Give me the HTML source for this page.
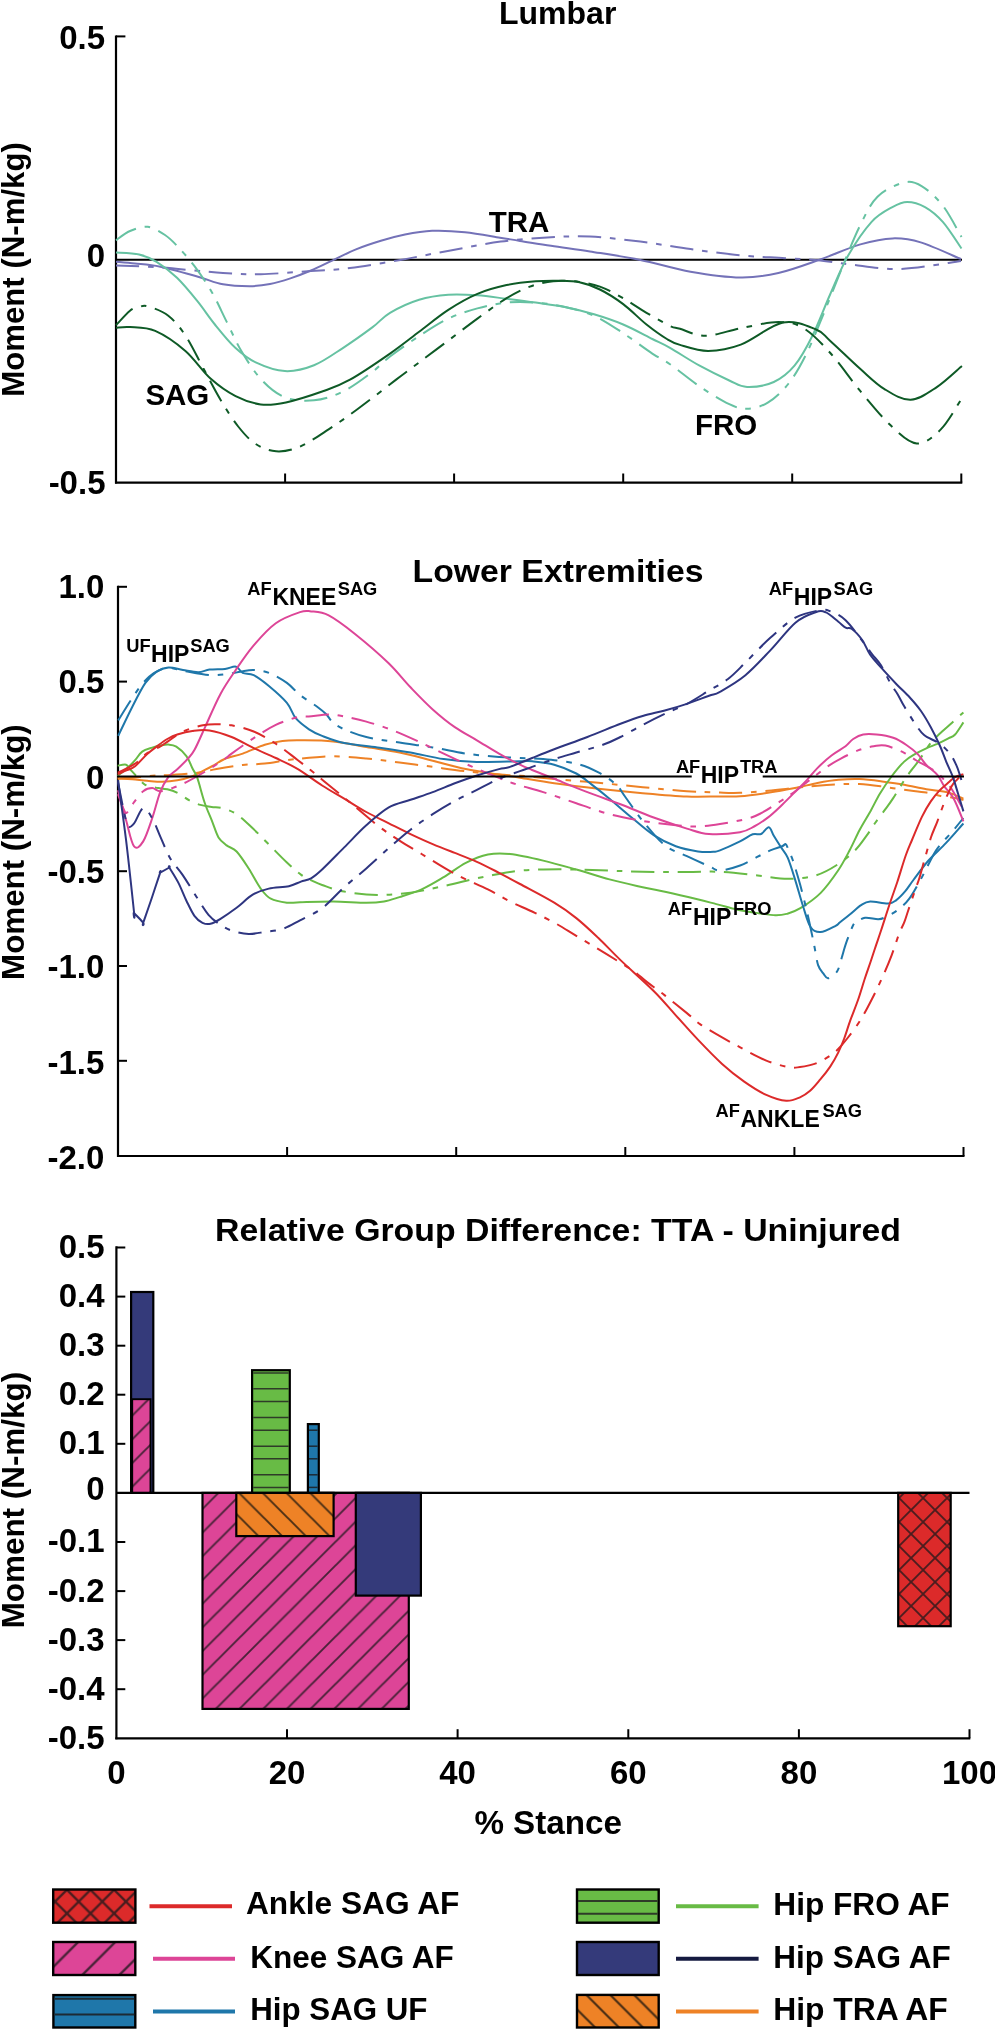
<!DOCTYPE html>
<html><head><meta charset="utf-8"><style>
html,body{margin:0;padding:0;background:#fff;}
svg{display:block;will-change:transform;}
text{font-family:'Liberation Sans',sans-serif;font-weight:bold;fill:#000;}
</style></head><body>
<svg width="995" height="2030" viewBox="0 0 995 2030">
<rect width="995" height="2030" fill="#fff"/>
<defs>
<pattern id="pRed" patternUnits="userSpaceOnUse" width="24" height="24" x="911.1" y="1510"><rect width="24" height="24" fill="#dc2a2a"/><path d="M-6.0 6.0 L6.0 -6.0 M0 24 L24 0 M18.0 30.0 L30.0 18.0 M-6.0 18.0 L6.0 30.0 M0 0 L24 24 M18.0 -6.0 L30.0 6.0" stroke="#4a1c1e" stroke-width="1.9" stroke-linecap="square"/></pattern>
<pattern id="pPink" patternUnits="userSpaceOnUse" width="23.7" height="23.7" x="241.1" y="1541.4"><rect width="23.7" height="23.7" fill="#dd4597"/><path d="M-5.925 5.925 L5.925 -5.925 M0 23.7 L23.7 0 M17.775 29.625 L29.625 17.775" stroke="#4a2238" stroke-width="1.9" stroke-linecap="square"/></pattern>
<pattern id="pPink2" patternUnits="userSpaceOnUse" width="23.7" height="23.7" x="241.1" y="1543.8"><rect width="23.7" height="23.7" fill="#dd4597"/><path d="M-5.925 5.925 L5.925 -5.925 M0 23.7 L23.7 0 M17.775 29.625 L29.625 17.775" stroke="#4a2238" stroke-width="1.9" stroke-linecap="square"/></pattern>
<pattern id="pOrange" patternUnits="userSpaceOnUse" width="23.7" height="23.7" x="240.5" y="1494.4"><rect width="23.7" height="23.7" fill="#ee8226"/><path d="M-5.925 17.775 L5.925 29.625 M0 0 L23.7 23.7 M17.775 -5.925 L29.625 5.925" stroke="#4a2e14" stroke-width="1.9" stroke-linecap="square"/></pattern>
<pattern id="pRedL" patternUnits="userSpaceOnUse" width="23.6" height="23.6" x="78.7" y="1901.6"><rect width="23.6" height="23.6" fill="#dc2a2a"/><path d="M-5.9 5.9 L5.9 -5.9 M0 23.6 L23.6 0 M17.700000000000003 29.5 L29.5 17.700000000000003 M-5.9 17.700000000000003 L5.9 29.5 M0 0 L23.6 23.6 M17.700000000000003 -5.9 L29.5 5.9" stroke="#4a1c1e" stroke-width="2.3" stroke-linecap="square"/></pattern>
<pattern id="pPinkL" patternUnits="userSpaceOnUse" width="37.1" height="37.1" x="114.3" y="1943"><rect width="37.1" height="37.1" fill="#dd4597"/><path d="M-9.275 9.275 L9.275 -9.275 M0 37.1 L37.1 0 M27.825000000000003 46.375 L46.375 27.825000000000003" stroke="#4a2238" stroke-width="2.4" stroke-linecap="square"/></pattern>
<pattern id="pOrangeL" patternUnits="userSpaceOnUse" width="23.85" height="23.85" x="587.1" y="1995.6"><rect width="23.85" height="23.85" fill="#ee8226"/><path d="M-5.9625 17.887500000000003 L5.9625 29.8125 M0 0 L23.85 23.85 M17.887500000000003 -5.9625 L29.8125 5.9625" stroke="#4a2e14" stroke-width="2.2" stroke-linecap="square"/></pattern>
</defs>
<text x="499.0" y="24.0" font-size="32" text-anchor="start" >Lumbar</text>
<text transform="translate(23.8 396.8) rotate(-90)" x="0" y="0" font-size="31.2" textLength="254.7" lengthAdjust="spacingAndGlyphs">Moment (N-m/kg)</text>
<line x1="116.0" y1="35.4" x2="116.0" y2="483.5" stroke="#000" stroke-width="2.2"/>
<line x1="115.0" y1="482.6" x2="962.3" y2="482.6" stroke="#000" stroke-width="2.2"/>
<line x1="116.0" y1="36.4" x2="125.4" y2="36.4" stroke="#000" stroke-width="2"/>
<line x1="285.1" y1="482.6" x2="285.1" y2="473.5" stroke="#000" stroke-width="2"/>
<line x1="454.1" y1="482.6" x2="454.1" y2="473.5" stroke="#000" stroke-width="2"/>
<line x1="623.2" y1="482.6" x2="623.2" y2="473.5" stroke="#000" stroke-width="2"/>
<line x1="792.2" y1="482.6" x2="792.2" y2="473.5" stroke="#000" stroke-width="2"/>
<line x1="961.3" y1="482.6" x2="961.3" y2="473.5" stroke="#000" stroke-width="2"/>
<line x1="116.0" y1="259.7" x2="962.0" y2="259.7" stroke="#000" stroke-width="2"/>
<text x="105.0" y="48.6" font-size="33" text-anchor="end" >0.5</text>
<text x="105.0" y="266.6" font-size="33" text-anchor="end" >0</text>
<text x="105.5" y="493.9" font-size="33" text-anchor="end" >-0.5</text>
<text x="488.7" y="231.8" font-size="29.5" text-anchor="start" >TRA</text>
<text x="145.4" y="405.2" font-size="29.5" text-anchor="start" >SAG</text>
<text x="695.0" y="434.6" font-size="29.5" text-anchor="start" >FRO</text>
<path d="M116.0 265.4 C123.4 265.7 142.5 266.1 160.3 267.4 C178.1 268.7 206.2 271.9 223.0 273.0 C239.8 274.1 246.1 274.5 260.8 274.2 C275.5 273.9 296.1 272.0 311.0 271.0 C325.9 270.0 335.1 269.9 350.0 268.0 C364.9 266.1 383.6 262.8 400.3 259.9 C417.1 257.0 433.8 253.4 450.5 250.4 C467.2 247.4 484.1 243.8 500.8 241.6 C517.5 239.4 536.1 238.2 551.0 237.3 C565.9 236.5 575.1 235.8 590.0 236.5 C604.9 237.2 623.5 239.5 640.3 241.6 C657.0 243.7 673.8 246.8 690.5 249.1 C707.2 251.4 725.0 253.9 740.8 255.4 C756.5 256.9 771.8 257.3 785.0 258.2 C798.2 259.1 809.3 259.4 820.2 260.5 C831.1 261.6 837.0 263.1 850.4 264.5 C863.8 265.9 882.2 269.6 900.6 269.0 C919.0 268.4 950.9 262.3 961.0 261.0" fill="none" stroke="#7472b8" stroke-width="2" stroke-dasharray="23.3 8.8 5.6 8.8" stroke-linejoin="round"/>
<path d="M116.0 261.7 C119.2 262.0 127.6 262.7 135.0 263.5 C142.4 264.3 149.8 264.5 160.3 266.7 C170.8 268.9 187.6 273.8 198.0 276.7 C208.4 279.6 214.4 282.7 223.0 284.3 C231.6 285.9 241.7 286.2 249.5 286.2 C257.3 286.1 263.2 285.3 270.0 284.0 C276.8 282.7 283.6 280.6 290.4 278.4 C297.2 276.1 303.9 273.5 311.0 270.5 C318.1 267.5 325.2 263.8 332.7 260.3 C340.2 256.8 348.0 252.6 356.0 249.3 C364.0 246.0 372.7 243.2 380.9 240.7 C389.1 238.2 396.5 236.2 405.0 234.5 C413.5 232.8 422.1 231.2 432.1 230.8 C442.1 230.4 453.7 231.0 465.0 232.2 C476.3 233.3 490.8 236.2 500.0 237.7 C509.2 239.1 511.5 239.6 520.0 240.9 C528.5 242.2 539.3 244.1 551.0 245.8 C562.7 247.6 575.1 249.1 590.0 251.4 C604.9 253.8 623.5 256.5 640.3 259.9 C657.0 263.3 673.8 268.8 690.5 271.7 C707.2 274.6 726.1 277.3 740.8 277.5 C755.4 277.7 765.2 276.0 778.4 273.0 C791.6 270.0 806.5 264.3 820.2 259.5 C833.9 254.7 848.3 247.9 860.4 244.4 C872.5 240.9 882.5 238.7 892.6 238.4 C902.7 238.1 909.3 238.9 920.7 242.4 C932.1 245.9 954.3 256.3 961.0 259.1" fill="none" stroke="#7472b8" stroke-width="2"  stroke-linejoin="round"/>
<path d="M116.0 240.3 C118.3 238.8 124.7 233.2 130.0 231.0 C135.3 228.8 142.1 226.1 147.9 226.8 C153.7 227.5 160.2 231.8 165.0 235.0 C169.8 238.2 172.1 240.6 177.0 245.8 C181.9 251.0 188.7 258.4 194.5 266.2 C200.3 274.0 206.7 283.2 212.0 292.4 C217.3 301.6 221.7 311.9 226.6 321.6 C231.5 331.3 235.4 341.0 241.2 350.7 C247.0 360.4 254.3 372.1 261.6 379.9 C268.9 387.7 276.2 393.9 284.9 397.3 C293.6 400.7 304.3 401.3 314.0 400.3 C323.7 399.3 333.5 396.2 343.2 391.5 C352.9 386.8 364.5 377.8 372.3 372.0 C380.1 366.2 382.2 362.5 390.0 356.5 C397.8 350.5 409.4 342.4 419.1 336.1 C428.8 329.8 438.6 323.2 448.3 318.6 C458.0 314.0 467.7 311.1 477.4 308.4 C487.1 305.7 496.9 303.6 506.6 302.6 C516.3 301.6 526.0 301.9 535.7 302.6 C545.4 303.3 555.2 304.8 564.9 307.0 C574.6 309.2 584.3 311.3 594.0 315.7 C603.7 320.1 613.5 326.9 623.2 333.2 C632.9 339.5 644.5 348.4 652.3 353.6 C660.1 358.8 662.1 358.7 670.0 364.2 C677.9 369.7 689.7 379.7 699.6 386.4 C709.5 393.1 721.4 400.5 729.3 404.2 C737.2 407.9 740.7 408.9 747.1 408.7 C753.5 408.4 760.9 406.9 767.8 402.7 C774.7 398.5 782.2 391.6 788.6 383.5 C795.0 375.4 800.5 365.7 806.4 353.8 C812.3 341.9 818.3 326.6 824.2 312.3 C830.1 298.0 836.1 282.1 842.0 267.8 C847.9 253.5 853.8 238.2 859.7 226.3 C865.6 214.5 870.1 204.0 877.5 196.7 C884.9 189.4 896.8 184.2 904.2 182.5 C911.6 180.8 915.6 182.5 922.0 186.3 C928.4 190.2 936.2 197.2 942.8 205.6 C949.4 214.0 958.4 231.8 961.5 237.0" fill="none" stroke="#66c2a2" stroke-width="2" stroke-dasharray="23.3 8.8 5.6 8.8" stroke-linejoin="round"/>
<path d="M116.0 252.5 C119.8 252.8 132.3 252.9 139.1 254.5 C145.9 256.1 150.3 257.9 156.6 261.8 C162.9 265.7 170.2 271.2 177.0 277.8 C183.8 284.4 191.1 293.4 197.4 301.2 C203.7 309.0 208.6 316.7 214.9 324.5 C221.2 332.3 228.5 341.5 235.3 347.8 C242.1 354.1 247.4 358.5 255.7 362.4 C264.0 366.3 275.2 370.6 284.9 371.1 C294.6 371.6 304.3 369.2 314.0 365.3 C323.7 361.4 333.5 354.1 343.2 347.8 C352.9 341.5 364.5 333.2 372.3 327.4 C380.1 321.6 382.2 317.4 390.0 312.8 C397.8 308.2 409.4 302.7 419.1 299.7 C428.8 296.7 438.6 295.4 448.3 294.7 C458.0 294.0 467.7 294.6 477.4 295.3 C487.1 296.0 496.9 297.6 506.6 298.8 C516.3 300.0 526.0 301.2 535.7 302.6 C545.4 304.0 555.2 305.1 564.9 307.0 C574.6 308.9 584.3 311.4 594.0 314.3 C603.7 317.2 613.5 320.4 623.2 324.5 C632.9 328.6 644.5 335.1 652.3 339.0 C660.1 342.9 662.1 343.4 670.0 347.9 C677.9 352.3 689.7 360.3 699.6 365.7 C709.5 371.1 721.4 376.9 729.3 380.5 C737.2 384.1 739.7 386.8 747.1 387.0 C754.5 387.2 765.9 385.6 773.8 382.0 C781.7 378.4 788.1 373.4 794.5 365.7 C800.9 358.0 806.4 347.9 812.3 336.0 C818.2 324.1 824.2 307.8 830.1 294.5 C836.0 281.2 841.0 268.1 847.9 256.0 C854.8 243.9 864.2 230.1 871.6 221.9 C879.0 213.8 886.5 210.4 892.4 207.1 C898.3 203.8 901.8 202.0 907.2 202.0 C912.6 202.0 919.1 203.8 925.0 207.1 C930.9 210.4 936.7 215.0 942.8 221.9 C948.9 228.8 958.4 244.1 961.5 248.5" fill="none" stroke="#66c2a2" stroke-width="2"  stroke-linejoin="round"/>
<path d="M116.0 325.2 C118.3 322.8 126.2 313.7 130.0 310.7 C133.8 307.7 136.1 307.7 139.1 307.0 C142.1 306.3 143.0 304.9 147.9 306.4 C152.8 307.8 162.0 310.8 168.3 315.7 C174.6 320.6 180.0 327.4 185.8 336.1 C191.6 344.9 197.5 357.5 203.3 368.2 C209.1 378.9 215.0 390.6 220.8 400.3 C226.6 410.0 232.4 419.2 238.2 426.5 C244.0 433.8 249.4 439.9 255.7 444.0 C262.0 448.1 268.8 450.8 276.1 451.3 C283.4 451.8 290.6 450.5 299.4 446.9 C308.1 443.2 318.9 435.7 328.6 429.4 C338.3 423.1 346.5 417.2 357.7 409.0 C368.9 400.8 385.6 387.7 395.8 379.9 C406.0 372.1 410.4 369.0 419.1 362.4 C427.9 355.8 438.6 347.8 448.3 340.5 C458.0 333.2 467.7 325.7 477.4 318.6 C487.1 311.6 497.9 303.5 506.6 298.2 C515.4 292.9 522.1 289.4 529.9 286.6 C537.7 283.8 545.4 282.1 553.2 281.3 C561.0 280.5 568.7 280.7 576.5 281.6 C584.3 282.5 592.1 283.8 599.9 286.6 C607.7 289.4 615.4 293.8 623.2 298.2 C631.0 302.6 638.7 308.2 646.5 312.8 C654.3 317.4 664.2 323.2 669.8 325.9 C675.4 328.6 674.0 327.1 680.0 328.8 C686.0 330.5 695.5 335.9 705.6 335.8 C715.7 335.7 728.7 330.5 740.8 328.2 C752.9 325.9 767.9 322.0 778.4 322.0 C788.9 322.0 795.0 323.0 803.6 328.2 C812.2 333.4 820.8 342.5 830.3 353.0 C839.8 363.5 850.3 379.1 860.4 391.2 C870.5 403.2 881.2 416.6 890.6 425.3 C900.0 434.0 908.3 442.7 916.7 443.4 C925.1 444.1 933.3 436.9 940.8 429.4 C948.3 421.9 958.4 403.4 961.9 398.2" fill="none" stroke="#0e5a26" stroke-width="2" stroke-dasharray="23.3 8.8 5.6 8.8" stroke-linejoin="round"/>
<path d="M116.0 327.7 C118.3 327.6 123.5 326.5 130.0 327.0 C136.5 327.5 146.0 326.8 155.2 330.8 C164.4 334.8 176.2 342.9 185.4 350.9 C194.6 358.8 202.1 371.0 210.5 378.5 C218.9 386.0 227.2 391.8 235.6 396.1 C244.0 400.4 252.4 403.3 260.8 404.4 C269.2 405.4 275.4 404.6 285.9 402.4 C296.4 400.2 312.9 394.8 323.6 391.0 C334.3 387.2 338.9 385.9 350.0 379.7 C361.1 373.5 378.5 361.6 390.0 353.6 C401.5 345.6 409.4 339.1 419.1 331.8 C428.8 324.5 438.6 316.2 448.3 309.9 C458.0 303.6 467.7 298.0 477.4 293.9 C487.1 289.8 496.9 287.2 506.6 285.1 C516.3 283.0 527.0 282.0 535.7 281.3 C544.4 280.6 551.7 280.7 559.0 280.8 C566.3 280.9 572.6 280.8 579.4 282.2 C586.2 283.6 592.6 285.9 599.9 289.5 C607.2 293.1 615.4 298.3 623.2 304.1 C631.0 309.9 639.2 318.7 646.5 324.5 C653.8 330.3 661.3 335.6 666.9 339.0 C672.5 342.4 673.1 342.9 680.0 344.9 C686.9 346.9 698.0 350.9 708.1 350.9 C718.2 350.8 728.3 349.3 740.8 344.6 C753.3 339.9 770.5 325.0 783.0 322.5 C795.5 320.0 808.2 326.4 816.1 329.5 C824.0 332.6 822.9 334.3 830.3 340.9 C837.7 347.5 851.4 361.0 860.4 369.0 C869.4 377.0 876.1 384.0 884.5 389.1 C892.9 394.2 902.0 400.1 910.7 399.8 C919.4 399.5 928.3 392.7 936.8 387.1 C945.3 381.5 957.7 369.5 961.9 366.0" fill="none" stroke="#0e5a26" stroke-width="2"  stroke-linejoin="round"/>
<text x="412.5" y="582.0" font-size="32" text-anchor="start" textLength="291.0" lengthAdjust="spacingAndGlyphs" >Lower Extremities</text>
<text transform="translate(24.3 979.9) rotate(-90)" x="0" y="0" font-size="31.2" textLength="255.7" lengthAdjust="spacingAndGlyphs">Moment (N-m/kg)</text>
<line x1="118.0" y1="585.8" x2="118.0" y2="1157.0" stroke="#000" stroke-width="2.2"/>
<line x1="117.0" y1="1156.0" x2="964.5" y2="1156.0" stroke="#000" stroke-width="2.2"/>
<line x1="118.0" y1="586.8" x2="127.0" y2="586.8" stroke="#000" stroke-width="2"/>
<line x1="118.0" y1="681.6" x2="127.0" y2="681.6" stroke="#000" stroke-width="2"/>
<line x1="118.0" y1="871.2" x2="127.0" y2="871.2" stroke="#000" stroke-width="2"/>
<line x1="118.0" y1="966.0" x2="127.0" y2="966.0" stroke="#000" stroke-width="2"/>
<line x1="118.0" y1="1060.8" x2="127.0" y2="1060.8" stroke="#000" stroke-width="2"/>
<line x1="287.1" y1="1156.0" x2="287.1" y2="1147.0" stroke="#000" stroke-width="2"/>
<line x1="456.2" y1="1156.0" x2="456.2" y2="1147.0" stroke="#000" stroke-width="2"/>
<line x1="625.3" y1="1156.0" x2="625.3" y2="1147.0" stroke="#000" stroke-width="2"/>
<line x1="794.4" y1="1156.0" x2="794.4" y2="1147.0" stroke="#000" stroke-width="2"/>
<line x1="963.5" y1="1156.0" x2="963.5" y2="1147.0" stroke="#000" stroke-width="2"/>
<path d="M117.7 778.2 C120.6 778.1 129.2 777.9 135.0 777.5 C140.8 777.1 146.8 776.1 152.2 775.7 C157.6 775.3 161.3 775.5 167.3 775.2 C173.3 774.9 182.5 774.2 188.4 773.7 C194.3 773.2 197.8 773.0 202.5 772.2 C207.2 771.4 209.8 770.2 216.5 769.0 C223.2 767.8 234.6 765.9 242.7 765.0 C250.8 764.1 257.4 764.4 264.8 763.6 C272.2 762.8 279.9 761.1 286.9 760.2 C293.9 759.3 298.9 758.6 306.6 758.0 C314.3 757.4 323.2 756.2 333.2 756.3 C343.1 756.4 355.2 757.5 366.3 758.5 C377.4 759.5 388.4 761.1 399.5 762.5 C410.6 763.9 421.6 765.4 432.7 766.9 C443.8 768.4 454.8 770.0 465.8 771.3 C476.9 772.6 490.0 773.9 499.0 774.6 C508.0 775.3 510.8 775.0 520.0 775.7 C529.2 776.4 541.1 777.8 554.2 779.0 C567.3 780.2 583.6 781.4 598.4 782.8 C613.1 784.2 628.0 785.8 642.7 787.2 C657.5 788.6 674.0 790.3 686.9 791.2 C699.8 792.1 711.1 792.3 720.0 792.6 C728.9 792.9 732.0 793.1 740.0 792.8 C748.0 792.5 758.7 791.5 768.1 790.7 C777.5 789.9 788.1 788.6 796.3 787.8 C804.5 787.0 810.4 786.3 817.4 785.7 C824.4 785.1 831.5 784.6 838.5 784.3 C845.5 784.0 852.3 783.6 859.6 784.0 C866.9 784.4 874.7 785.5 882.1 786.5 C889.5 787.5 896.8 788.8 904.2 789.8 C911.6 790.8 920.2 791.6 926.3 792.6 C932.4 793.6 935.9 795.0 940.7 795.9 C945.5 796.8 951.3 797.4 955.1 798.1 C958.9 798.8 962.0 799.7 963.4 800.0" fill="none" stroke="#ee8226" stroke-width="2" stroke-dasharray="23.3 8.8 5.6 8.8" stroke-linejoin="round"/>
<path d="M117.7 778.7 C120.1 778.8 127.2 778.9 132.1 779.2 C137.0 779.6 142.2 780.4 147.2 780.8 C152.2 781.2 157.3 781.9 162.3 781.8 C167.3 781.7 172.3 781.2 177.3 780.3 C182.3 779.4 188.2 777.7 192.4 776.2 C196.6 774.7 199.2 772.9 202.5 771.2 C205.8 769.5 208.8 768.0 212.5 766.0 C216.2 764.0 219.6 761.1 224.6 759.0 C229.6 756.9 236.0 756.0 242.7 753.6 C249.4 751.2 258.2 746.9 264.8 744.8 C271.4 742.7 276.6 741.8 282.5 741.0 C288.4 740.2 291.6 740.2 300.0 740.3 C308.4 740.4 322.1 740.3 333.2 741.4 C344.2 742.5 355.2 745.1 366.3 747.0 C377.4 748.9 388.4 750.2 399.5 752.5 C410.6 754.8 421.6 757.9 432.7 760.7 C443.8 763.5 454.8 766.8 465.8 769.1 C476.9 771.4 490.0 773.2 499.0 774.6 C508.0 776.0 510.8 776.2 520.0 777.7 C529.2 779.2 541.1 781.4 554.2 783.3 C567.3 785.1 583.6 787.1 598.4 788.8 C613.1 790.4 628.0 791.9 642.7 793.2 C657.5 794.5 674.0 796.0 686.9 796.5 C699.8 797.0 711.1 796.4 720.0 796.4 C728.9 796.4 732.0 796.9 740.0 796.3 C748.0 795.7 758.7 794.2 768.1 792.8 C777.5 791.4 788.1 789.4 796.3 787.8 C804.5 786.1 810.4 784.2 817.4 782.9 C824.4 781.6 831.5 780.4 838.5 779.8 C845.5 779.2 852.3 778.8 859.6 779.1 C866.9 779.4 874.7 780.5 882.1 781.5 C889.5 782.5 896.8 783.5 904.2 784.8 C911.6 786.1 918.9 788.0 926.3 789.3 C933.7 790.6 942.2 791.0 948.4 792.6 C954.6 794.2 960.9 797.7 963.4 798.7" fill="none" stroke="#ee8226" stroke-width="2"  stroke-linejoin="round"/>
<path d="M117.7 765.7 C119.1 765.5 124.0 764.1 126.1 764.7 C128.2 765.3 128.4 767.4 130.1 769.2 C131.8 771.0 133.6 773.1 136.1 775.7 C138.6 778.3 141.8 782.8 145.2 784.8 C148.5 786.8 152.5 787.0 156.2 787.8 C159.9 788.5 163.6 788.4 167.3 789.3 C171.0 790.2 174.6 791.4 178.3 793.3 C182.0 795.1 185.7 798.5 189.4 800.4 C193.1 802.3 196.7 803.8 200.4 804.9 C204.1 806.0 207.8 806.3 211.5 806.9 C215.2 807.5 218.4 807.0 222.6 808.2 C226.8 809.4 231.6 810.9 236.6 814.3 C241.6 817.6 247.3 823.3 252.7 828.3 C258.1 833.3 263.1 838.7 268.8 844.4 C274.5 850.1 281.5 857.5 286.9 862.5 C292.2 867.5 296.7 871.6 300.9 874.6 C305.1 877.6 308.5 878.9 312.0 880.6 C315.5 882.3 316.7 883.2 322.1 885.0 C327.5 886.8 335.0 890.0 344.2 891.6 C353.4 893.2 366.3 894.7 377.4 894.9 C388.4 895.1 399.4 894.2 410.5 892.7 C421.6 891.2 432.6 888.5 443.7 886.1 C454.8 883.7 467.7 880.3 476.9 878.3 C486.1 876.3 491.8 875.2 499.0 873.9 C506.2 872.6 512.6 871.3 520.0 870.6 C527.4 869.9 533.8 869.7 543.2 869.5 C552.6 869.3 565.2 869.3 576.3 869.5 C587.3 869.7 598.4 870.2 609.5 870.6 C620.6 871.0 629.8 871.5 642.7 871.7 C655.6 872.0 674.0 872.1 686.9 872.1 C699.8 872.1 708.2 871.2 720.0 871.8 C731.8 872.4 746.4 874.3 757.7 875.5 C769.0 876.7 778.2 878.8 787.8 878.8 C797.4 878.8 807.1 877.9 815.5 875.5 C823.9 873.1 831.5 868.5 838.1 864.2 C844.8 860.0 850.6 854.8 855.4 850.0 C860.1 845.2 863.3 840.2 866.6 835.7 C869.9 831.2 872.0 827.4 875.1 823.0 C878.2 818.6 882.4 813.4 885.4 809.2 C888.4 805.1 890.1 802.9 893.2 798.1 C896.3 793.3 901.1 785.2 904.2 780.4 C907.3 775.6 909.4 772.9 912.0 769.4 C914.6 765.9 916.6 763.8 919.7 759.4 C922.8 755.0 927.1 747.4 930.8 742.8 C934.5 738.2 938.3 735.1 941.8 731.8 C945.3 728.5 948.2 726.1 951.8 722.9 C955.4 719.7 961.5 714.1 963.4 712.4" fill="none" stroke="#68bb45" stroke-width="2" stroke-dasharray="23.3 8.8 5.6 8.8" stroke-linejoin="round"/>
<path d="M117.7 775.7 C119.3 774.5 124.2 770.8 127.1 768.2 C130.0 765.6 132.6 763.0 135.1 760.2 C137.6 757.4 139.3 753.7 142.2 751.6 C145.0 749.5 149.2 748.6 152.2 747.6 C155.2 746.6 157.5 746.1 160.2 745.6 C162.9 745.1 165.6 744.4 168.3 744.6 C171.0 744.8 173.3 744.7 176.3 746.6 C179.3 748.5 183.7 752.5 186.4 756.1 C189.1 759.7 190.6 764.5 192.4 768.2 C194.2 771.9 195.4 772.5 197.4 778.2 C199.4 783.9 202.0 794.9 204.5 802.2 C207.0 809.6 210.2 816.4 212.5 822.3 C214.8 828.2 216.2 833.5 218.5 837.4 C220.8 841.2 223.6 843.0 226.6 845.4 C229.6 847.8 232.9 847.6 236.6 851.5 C240.3 855.4 244.7 862.3 248.7 868.5 C252.7 874.7 257.0 883.6 260.7 888.6 C264.4 893.6 266.4 896.4 270.8 898.7 C275.2 901.1 282.0 902.1 286.9 902.7 C291.8 903.3 292.3 902.4 300.0 902.2 C307.7 902.0 322.1 901.4 333.2 901.5 C344.2 901.6 357.8 902.7 366.3 902.7 C374.8 902.7 378.5 902.4 384.0 901.5 C389.5 900.6 393.2 899.1 399.5 897.1 C405.8 895.1 414.2 892.7 421.6 889.4 C429.0 886.1 436.3 881.6 443.7 877.2 C451.1 872.8 458.4 866.7 465.8 862.9 C473.2 859.1 480.5 856.0 487.9 854.5 C495.3 853.0 500.8 853.0 510.0 854.0 C519.2 855.0 532.2 858.0 543.2 860.6 C554.2 863.2 565.2 866.4 576.3 869.5 C587.3 872.6 598.4 876.4 609.5 879.4 C620.6 882.4 634.3 885.3 642.7 887.2 C651.1 889.1 652.4 889.1 660.0 890.7 C667.6 892.3 678.7 894.8 688.1 897.0 C697.5 899.2 708.1 902.0 716.3 904.1 C724.5 906.2 730.4 908.2 737.4 909.7 C744.4 911.2 752.2 912.3 758.5 913.2 C764.8 914.1 770.7 915.2 775.4 915.3 C780.1 915.4 782.4 915.1 786.6 913.9 C790.8 912.7 794.8 911.7 800.4 908.2 C806.0 904.7 814.2 899.4 820.5 893.1 C826.8 886.8 833.2 877.7 838.1 870.5 C843.0 863.3 846.2 856.8 849.8 850.0 C853.4 843.2 856.1 836.6 859.6 830.0 C863.1 823.4 867.5 816.5 870.9 810.4 C874.3 804.3 876.6 799.1 880.0 793.5 C883.4 787.9 887.5 781.8 891.5 776.5 C895.5 771.2 900.2 765.4 904.2 761.6 C908.2 757.8 911.6 756.1 915.3 753.9 C919.0 751.7 922.6 750.0 926.3 748.3 C930.0 746.6 933.7 745.5 937.4 743.9 C941.1 742.2 945.4 740.0 948.4 738.4 C951.4 736.8 952.6 737.2 955.1 734.5 C957.6 731.8 962.0 724.4 963.4 722.4" fill="none" stroke="#68bb45" stroke-width="2"  stroke-linejoin="round"/>
<path d="M118.2 720.4 C120.5 716.7 127.9 704.5 132.1 698.3 C136.3 692.0 139.5 687.1 143.2 682.9 C146.9 678.7 150.1 675.4 154.2 672.9 C158.2 670.4 162.7 668.2 167.5 667.8 C172.3 667.4 176.0 669.5 183.0 670.7 C190.0 671.9 202.1 674.6 209.5 675.1 C216.9 675.6 222.0 674.5 227.2 674.0 C232.3 673.5 236.0 672.5 240.4 671.8 C244.8 671.1 248.9 669.8 253.7 670.0 C258.5 670.2 263.7 670.8 269.2 672.9 C274.7 675.0 281.8 679.2 286.9 682.9 C292.0 686.6 295.0 691.0 300.1 695.0 C305.2 699.0 313.5 704.0 317.8 707.2 C322.1 710.4 323.4 711.4 326.0 714.0 C328.6 716.6 330.2 720.2 333.2 722.7 C336.2 725.2 338.7 726.9 344.2 729.3 C349.7 731.7 357.1 734.8 366.3 737.0 C375.5 739.2 388.4 740.9 399.5 742.6 C410.6 744.3 421.6 745.6 432.7 747.4 C443.8 749.2 454.8 752.0 465.8 753.6 C476.9 755.2 490.0 756.2 499.0 756.9 C508.0 757.6 512.6 757.6 520.0 758.0 C527.4 758.4 533.8 758.2 543.2 759.1 C552.6 760.0 567.1 761.4 576.3 763.6 C585.5 765.8 591.8 768.9 598.4 772.4 C605.0 775.9 611.7 780.6 616.1 784.6 C620.5 788.6 620.6 790.5 625.0 796.5 C629.4 802.5 636.1 812.8 642.7 820.9 C649.3 829.0 657.4 839.3 664.8 845.2 C672.2 851.1 679.5 852.7 686.9 856.2 C694.3 859.7 703.5 863.8 709.0 866.2 C714.5 868.6 714.8 870.6 720.0 870.5 C725.2 870.4 733.8 867.8 740.1 865.5 C746.4 863.2 752.7 859.2 757.7 856.7 C762.7 854.2 766.2 852.1 770.3 850.4 C774.4 848.6 779.6 847.2 782.2 846.2 C784.8 845.2 784.7 843.5 785.7 844.1 C786.8 844.7 787.3 847.3 788.5 850.0 C789.7 852.7 790.9 854.6 792.9 860.5 C794.9 866.4 797.9 876.4 800.4 885.6 C802.9 894.8 805.8 906.6 807.9 915.7 C810.0 924.8 811.9 934.3 813.1 940.0 C814.3 945.7 814.3 945.9 815.1 950.1 C815.9 954.3 816.8 961.2 818.1 965.1 C819.4 969.0 821.4 971.0 823.1 973.2 C824.8 975.4 825.8 978.5 828.1 978.2 C830.5 977.9 834.9 974.9 837.2 971.2 C839.6 967.5 840.7 960.8 842.2 956.1 C843.7 951.5 844.2 948.4 846.0 943.3 C847.8 938.1 851.4 928.7 853.1 925.2 C854.8 921.7 854.1 923.5 856.1 922.2 C858.1 921.0 861.4 918.2 865.1 917.7 C868.8 917.2 874.9 919.3 878.2 919.2 C881.6 919.1 881.9 918.8 885.2 917.2 C888.6 915.6 894.3 912.7 898.3 909.6 C902.3 906.5 905.6 903.5 909.3 898.6 C913.0 893.7 915.9 888.0 920.4 880.0 C924.9 872.0 931.0 858.3 936.1 850.4 C941.2 842.5 946.7 838.2 951.2 832.8 C955.8 827.4 961.4 820.5 963.4 818.0" fill="none" stroke="#1f77aa" stroke-width="2" stroke-dasharray="23.3 8.8 5.6 8.8" stroke-linejoin="round"/>
<path d="M118.2 735.9 C120.5 731.1 127.6 716.0 132.1 707.2 C136.6 698.4 141.3 688.8 145.4 682.9 C149.5 677.0 152.5 674.4 156.4 671.8 C160.3 669.2 164.2 667.7 168.6 667.4 C173.0 667.1 178.0 669.2 183.0 670.0 C188.0 670.8 194.0 672.3 198.4 672.2 C202.8 672.1 205.1 670.2 209.5 669.6 C213.9 669.0 220.6 669.4 225.0 668.9 C229.4 668.4 233.1 666.0 236.0 666.7 C238.9 667.4 239.8 671.5 242.7 672.9 C245.6 674.3 249.3 672.9 253.7 675.1 C258.1 677.3 263.7 681.6 269.2 686.2 C274.7 690.8 282.5 697.5 286.9 702.8 C291.3 708.1 292.0 713.8 295.7 718.2 C299.4 722.6 304.6 726.3 309.0 729.3 C313.4 732.2 316.2 733.6 322.1 735.9 C328.0 738.2 335.0 741.1 344.2 743.0 C353.4 744.9 366.3 745.8 377.4 747.4 C388.4 749.0 399.4 750.5 410.5 752.5 C421.6 754.5 432.6 757.5 443.7 759.1 C454.8 760.7 464.2 761.6 476.9 762.0 C489.6 762.4 510.8 761.4 520.0 761.3 C529.2 761.2 526.4 760.7 532.1 761.3 C537.8 761.9 546.8 762.7 554.2 764.7 C561.6 766.7 570.0 770.2 576.3 773.5 C582.6 776.8 586.3 780.4 591.8 784.6 C597.3 788.8 602.9 793.2 609.5 798.7 C616.1 804.2 624.2 811.4 631.6 817.5 C639.0 823.6 646.3 830.4 653.7 835.2 C661.1 840.0 668.4 843.6 675.8 846.3 C683.2 849.0 691.6 850.5 697.9 851.4 C704.2 852.3 709.7 852.0 713.4 851.8 C717.1 851.6 715.6 852.1 720.0 850.4 C724.4 848.6 734.5 844.0 740.0 841.3 C745.5 838.6 749.2 835.5 752.7 834.3 C756.2 833.1 758.4 835.2 761.1 834.0 C763.8 832.8 766.7 826.9 768.8 827.2 C770.9 827.5 771.8 832.4 773.8 835.7 C775.8 839.0 778.5 843.2 780.8 846.9 C783.1 850.6 785.4 852.3 787.8 857.9 C790.2 863.5 792.9 872.6 795.4 880.6 C797.9 888.6 800.4 898.0 802.9 905.7 C805.4 913.4 807.6 922.6 810.5 927.0 C813.4 931.4 816.3 932.3 820.5 932.1 C824.7 931.9 832.4 927.4 835.6 925.8 C838.9 924.1 837.6 924.1 840.0 922.2 C842.4 920.3 846.6 917.1 850.1 914.2 C853.6 911.4 857.8 907.2 861.1 905.1 C864.5 903.0 865.7 901.9 870.2 901.6 C874.7 901.4 883.9 903.9 888.2 903.6 C892.6 903.4 893.4 902.2 896.3 900.1 C899.1 898.0 902.4 894.5 905.3 891.1 C908.1 887.8 909.5 885.1 913.4 880.0 C917.3 874.9 923.0 866.7 928.5 860.5 C934.0 854.3 940.3 849.1 946.1 842.9 C951.9 836.7 960.5 826.7 963.4 823.5" fill="none" stroke="#1f77aa" stroke-width="2"  stroke-linejoin="round"/>
<path d="M118.0 794.2 C119.0 796.9 122.6 807.3 124.1 810.3 C125.6 813.3 125.4 813.8 127.1 812.4 C128.8 811.0 131.4 805.7 134.1 802.2 C136.8 798.7 140.2 793.6 143.2 791.2 C146.2 788.9 149.4 788.1 152.2 788.1 C155.0 788.1 156.8 791.2 160.2 791.2 C163.5 791.2 167.9 789.6 172.3 788.1 C176.7 786.6 181.0 784.8 186.4 782.1 C191.8 779.4 198.1 775.9 204.5 772.0 C210.9 768.1 220.1 762.1 224.6 759.0 C229.1 755.9 226.8 757.1 231.6 753.6 C236.4 750.1 246.3 742.9 253.7 738.1 C261.1 733.3 268.4 728.4 275.8 724.9 C283.2 721.4 292.4 718.5 297.9 717.1 C303.4 715.7 303.7 716.9 308.8 716.5 C313.9 716.1 322.8 714.5 328.7 714.5 C334.6 714.5 337.9 715.3 344.2 716.5 C350.5 717.7 358.2 719.3 366.3 721.6 C374.4 723.9 383.7 726.8 392.9 730.4 C402.1 734.0 413.1 739.1 421.6 743.0 C430.1 746.9 435.2 749.6 443.7 753.6 C452.2 757.6 463.3 762.9 472.5 766.9 C481.7 770.9 491.6 775.0 499.0 777.9 C506.4 780.8 509.2 782.0 516.6 784.4 C524.0 786.8 533.2 789.0 543.2 792.1 C553.2 795.2 565.2 799.5 576.3 803.2 C587.3 806.9 598.4 811.2 609.5 814.2 C620.6 817.2 631.7 819.0 642.7 820.9 C653.8 822.8 666.6 824.4 675.8 825.3 C685.0 826.2 690.5 826.6 697.9 826.4 C705.3 826.2 711.8 825.3 720.0 824.0 C728.2 822.7 740.1 820.6 747.0 818.8 C753.9 817.0 755.7 816.0 761.1 813.2 C766.5 810.4 774.7 804.8 779.4 801.9 C784.1 799.0 785.2 798.4 789.2 795.6 C793.2 792.8 798.8 788.4 803.3 785.0 C807.8 781.6 812.0 778.2 816.0 775.2 C820.0 772.2 823.0 769.5 827.2 766.7 C831.4 763.9 835.9 761.1 841.3 758.3 C846.7 755.5 854.2 751.8 859.6 749.8 C865.0 747.8 869.4 747.0 873.7 746.3 C878.0 745.6 880.3 744.5 885.4 745.6 C890.5 746.7 899.0 750.3 904.2 752.8 C909.4 755.3 912.7 758.3 916.4 760.5 C920.1 762.7 922.8 764.0 926.3 766.0 C929.8 768.0 934.4 770.4 937.4 772.7 C940.4 775.0 941.6 777.1 944.0 779.9 C946.4 782.7 948.6 784.3 951.8 789.3 C955.0 794.3 961.5 806.5 963.4 810.0" fill="none" stroke="#dd4597" stroke-width="2" stroke-dasharray="23.3 8.8 5.6 8.8" stroke-linejoin="round"/>
<path d="M118.0 790.2 C119.3 795.2 123.4 810.9 126.1 820.3 C128.8 829.7 131.2 842.9 134.1 846.4 C136.9 849.9 140.2 846.1 143.2 841.4 C146.2 836.7 149.4 826.5 152.2 818.3 C155.0 810.1 157.5 799.1 160.2 792.2 C162.9 785.4 165.5 781.0 168.3 777.2 C171.2 773.4 174.1 772.2 177.3 769.2 C180.5 766.2 184.6 762.3 187.4 759.1 C190.2 755.9 191.5 755.4 194.4 750.1 C197.3 744.8 200.8 736.5 205.1 727.1 C209.4 717.7 215.3 703.5 220.5 693.9 C225.7 684.3 230.5 677.7 236.0 669.6 C241.5 661.5 247.1 653.0 253.7 645.3 C260.3 637.6 268.1 628.7 275.8 623.2 C283.5 617.7 294.1 614.1 300.0 612.1 C305.9 610.1 306.3 610.9 311.1 611.4 C315.9 611.9 321.3 611.6 328.7 615.4 C336.1 619.2 345.4 626.3 355.3 634.2 C365.2 642.1 379.2 654.1 388.4 663.0 C397.6 671.9 403.1 679.6 410.5 687.3 C417.9 695.0 425.3 702.8 432.7 709.4 C440.1 716.0 447.4 722.0 454.8 727.1 C462.2 732.2 469.5 735.9 476.9 740.3 C484.3 744.7 491.8 749.5 499.0 753.6 C506.2 757.7 514.5 762.0 520.0 764.7 C525.5 767.4 526.4 767.6 532.1 770.0 C537.8 772.4 545.0 775.1 554.2 778.8 C563.4 782.5 576.4 787.9 587.4 792.1 C598.4 796.4 609.5 800.1 620.5 804.3 C631.5 808.5 642.6 813.5 653.7 817.5 C664.8 821.5 677.7 825.8 686.9 828.6 C696.1 831.4 700.1 833.5 709.0 834.1 C717.9 834.7 732.5 833.5 740.0 832.2 C747.5 830.9 749.4 829.0 754.1 826.5 C758.8 824.0 763.4 821.0 768.1 817.4 C772.8 813.8 777.5 809.2 782.2 804.7 C786.9 800.2 792.1 794.9 796.3 790.7 C800.5 786.5 804.0 783.2 807.5 779.4 C811.0 775.6 813.4 772.1 817.4 768.1 C821.4 764.1 826.8 759.1 831.5 755.5 C836.2 751.9 841.9 749.0 845.5 746.3 C849.1 743.5 850.2 741.0 853.2 739.0 C856.2 737.0 859.3 735.2 863.2 734.5 C867.1 733.8 871.6 734.0 876.6 734.5 C881.6 735.0 888.2 736.0 893.2 737.8 C898.2 739.5 902.4 742.3 906.4 745.0 C910.4 747.7 914.2 750.6 917.5 753.9 C920.8 757.2 923.0 761.4 926.3 764.9 C929.6 768.4 934.4 771.4 937.4 774.9 C940.4 778.4 941.2 781.8 944.0 785.9 C946.8 790.0 950.8 793.3 954.0 799.2 C957.2 805.1 961.8 817.6 963.4 821.3" fill="none" stroke="#dd4597" stroke-width="2"  stroke-linejoin="round"/>
<path d="M117.7 772.7 C119.3 772.0 123.9 770.0 127.1 768.2 C130.3 766.5 133.8 764.7 137.1 762.2 C140.4 759.7 143.5 755.6 147.2 753.1 C150.9 750.6 155.7 749.1 159.2 747.1 C162.7 745.1 164.3 743.7 168.3 741.1 C172.3 738.5 177.2 734.1 183.0 731.5 C188.8 728.9 197.4 726.5 202.9 725.3 C208.4 724.1 211.3 724.2 216.1 724.2 C220.9 724.2 225.3 724.1 231.6 725.3 C237.9 726.5 246.3 728.4 253.7 731.5 C261.1 734.6 268.4 738.9 275.8 743.7 C283.2 748.5 291.6 755.5 297.9 760.2 C304.1 765.0 308.5 768.4 313.3 772.2 C318.1 776.1 320.2 778.1 326.5 783.3 C332.8 788.5 342.4 796.2 350.9 803.2 C359.4 810.2 369.3 819.0 377.4 825.3 C385.5 831.5 392.1 835.9 399.5 840.7 C406.9 845.5 412.4 848.5 421.6 854.0 C430.8 859.5 443.8 868.0 454.8 873.9 C465.9 879.8 478.7 884.8 487.9 889.4 C497.1 894.0 502.6 897.8 510.0 901.5 C517.4 905.2 524.7 908.0 532.1 911.5 C539.5 915.0 546.8 918.6 554.2 922.6 C561.6 926.6 568.9 931.4 576.3 935.8 C583.7 940.2 591.8 945.1 598.4 949.1 C605.0 953.1 610.2 956.3 616.1 960.0 C622.0 963.7 628.6 967.4 633.8 971.1 C639.0 974.8 641.9 978.1 647.1 982.1 C652.3 986.1 658.2 990.2 664.8 995.4 C671.4 1000.6 681.0 1008.3 686.9 1013.1 C692.8 1017.9 694.1 1020.0 700.0 1024.1 C705.9 1028.1 714.7 1033.2 722.1 1037.4 C729.5 1041.6 736.8 1045.6 744.2 1049.5 C751.6 1053.4 758.9 1057.6 766.3 1060.6 C773.7 1063.5 782.8 1066.1 788.4 1067.2 C794.0 1068.3 796.4 1067.4 800.0 1067.1 C803.6 1066.8 806.8 1066.0 810.1 1065.1 C813.5 1064.2 816.8 1063.2 820.1 1061.6 C823.5 1060.0 827.2 1057.7 830.2 1055.6 C833.2 1053.5 835.4 1051.8 838.2 1049.0 C841.0 1046.2 843.5 1043.3 847.2 1038.5 C850.9 1033.7 856.1 1027.0 860.3 1020.4 C864.4 1013.8 868.5 1005.9 872.1 998.8 C875.8 991.7 878.9 985.0 882.2 977.7 C885.5 970.4 888.9 962.5 891.7 955.1 C894.5 947.7 897.1 939.0 899.2 933.5 C901.3 928.0 902.8 926.1 904.3 922.2 C905.8 918.3 906.6 915.2 908.3 910.2 C910.0 905.2 912.5 897.5 914.4 892.1 C916.2 886.7 917.6 883.7 919.4 878.0 C921.2 872.3 923.0 864.8 925.0 858.0 C927.0 851.2 929.0 843.1 931.1 837.0 C933.2 830.9 935.1 827.4 937.4 821.3 C939.7 815.2 942.7 806.2 945.1 800.3 C947.5 794.4 949.8 789.4 951.8 785.9 C953.8 782.4 955.4 781.4 957.3 779.3 C959.2 777.2 962.4 774.2 963.4 773.2" fill="none" stroke="#dc2a2a" stroke-width="2" stroke-dasharray="23.3 8.8 5.6 8.8" stroke-linejoin="round"/>
<path d="M117.7 774.2 C119.3 773.5 124.2 771.5 127.1 770.2 C130.0 768.9 131.8 768.9 135.1 766.2 C138.4 763.5 143.5 757.5 147.2 754.1 C150.9 750.8 153.8 748.6 157.2 746.1 C160.5 743.6 164.0 740.9 167.3 739.0 C170.7 737.1 173.1 735.8 177.3 734.5 C181.5 733.2 187.0 731.7 192.4 731.0 C197.8 730.3 203.0 729.4 209.5 730.4 C216.0 731.4 224.2 734.0 231.6 737.0 C239.0 740.0 246.3 744.6 253.7 748.1 C261.1 751.6 268.4 754.5 275.8 758.0 C283.2 761.5 290.2 764.5 297.9 769.1 C305.6 773.7 314.4 780.6 322.1 785.5 C329.8 790.4 336.8 794.3 344.2 798.7 C351.6 803.1 358.9 807.9 366.3 812.0 C373.7 816.1 381.0 819.4 388.4 823.1 C395.8 826.8 403.1 830.6 410.5 834.1 C417.9 837.6 425.3 841.0 432.7 844.1 C440.1 847.2 447.4 850.0 454.8 852.9 C462.2 855.8 469.5 858.5 476.9 861.8 C484.3 865.1 491.8 869.1 499.0 872.8 C506.2 876.5 510.8 879.0 520.0 884.0 C529.2 889.0 544.8 897.0 554.2 902.7 C563.6 908.4 568.9 912.2 576.3 918.1 C583.7 924.0 591.0 931.0 598.4 938.0 C605.8 945.0 611.3 951.3 620.5 960.1 C629.7 968.9 644.5 981.8 653.7 991.0 C662.9 1000.2 668.4 1007.2 675.8 1015.3 C683.2 1023.4 690.2 1031.5 697.9 1039.6 C705.6 1047.7 714.4 1056.9 722.1 1063.9 C729.8 1070.9 736.8 1076.4 744.2 1081.6 C751.6 1086.8 759.3 1091.7 766.3 1094.9 C773.3 1098.1 780.6 1100.4 786.2 1100.8 C791.8 1101.2 796.0 1099.0 800.0 1097.3 C804.0 1095.6 806.8 1093.7 810.1 1090.8 C813.5 1087.9 816.8 1083.7 820.1 1079.7 C823.5 1075.7 827.2 1071.1 830.2 1066.6 C833.2 1062.1 835.9 1057.3 838.2 1052.6 C840.5 1047.9 842.2 1043.9 844.2 1038.5 C846.2 1033.1 848.0 1026.8 850.3 1020.4 C852.6 1014.0 855.5 1007.1 858.0 1000.0 C860.5 992.9 862.9 984.3 865.1 977.7 C867.3 971.1 869.3 965.6 871.1 960.2 C872.9 954.8 874.4 950.1 876.1 945.1 C877.8 940.1 878.9 937.0 881.2 930.0 C883.5 923.0 887.3 911.0 890.0 903.0 C892.7 895.0 894.6 890.0 897.3 882.0 C899.9 874.0 903.4 862.0 905.9 855.0 C908.4 848.0 909.3 846.4 912.0 840.0 C914.7 833.6 918.8 823.3 921.9 816.9 C925.0 810.5 927.8 805.8 930.8 801.4 C933.8 797.0 936.7 793.5 939.6 790.4 C942.5 787.3 945.8 784.8 948.4 782.6 C951.0 780.4 952.6 778.5 955.1 777.1 C957.6 775.7 962.0 774.8 963.4 774.3" fill="none" stroke="#dc2a2a" stroke-width="2"  stroke-linejoin="round"/>
<path d="M118.0 782.1 C119.0 787.1 122.4 804.9 124.1 812.3 C125.8 819.7 126.4 824.5 128.1 826.3 C129.8 828.1 131.6 826.3 134.1 823.3 C136.6 820.3 140.2 809.0 143.2 808.2 C146.2 807.4 149.4 813.6 152.2 818.3 C155.0 823.0 157.2 829.7 160.2 836.4 C163.2 843.1 166.6 852.1 170.3 858.5 C174.0 864.9 178.1 868.2 182.4 874.6 C186.8 881.0 192.1 890.0 196.4 896.7 C200.8 903.4 204.5 910.1 208.5 914.8 C212.5 919.5 216.5 922.1 220.5 924.8 C224.5 927.5 227.9 929.4 232.6 930.9 C237.3 932.4 243.3 933.7 248.7 933.9 C254.1 934.1 259.1 932.8 264.8 931.9 C270.5 931.0 277.0 930.7 282.9 928.8 C288.8 926.9 293.5 923.7 300.0 920.3 C306.5 916.9 314.7 913.7 322.1 908.2 C329.5 902.7 336.8 893.8 344.2 887.2 C351.6 880.6 358.9 874.9 366.3 868.4 C373.7 861.9 381.0 855.0 388.4 848.5 C395.8 842.0 403.1 835.4 410.5 829.7 C417.9 824.0 425.3 819.0 432.7 814.2 C440.1 809.4 447.4 805.0 454.8 801.0 C462.2 797.0 469.5 793.6 476.9 789.9 C484.3 786.2 491.8 781.9 499.0 778.8 C506.2 775.7 514.5 773.1 520.0 771.1 C525.5 769.1 526.4 768.9 532.1 766.9 C537.8 764.9 546.8 761.5 554.2 759.1 C561.6 756.7 568.2 754.9 576.3 752.5 C584.4 750.1 595.5 747.4 602.9 744.8 C610.3 742.2 613.9 740.3 620.5 737.0 C627.1 733.7 635.3 728.8 642.7 724.9 C650.1 721.0 657.4 717.3 664.8 713.8 C672.2 710.3 679.5 707.8 686.9 703.9 C694.3 700.0 702.1 694.8 709.0 690.6 C715.9 686.5 722.0 683.6 728.0 679.0 C734.0 674.4 738.1 669.8 745.1 662.9 C752.1 656.0 761.9 645.3 770.3 637.8 C778.7 630.3 787.0 622.3 795.4 617.7 C803.8 613.1 814.6 611.2 820.5 610.2 C826.4 609.2 826.4 609.7 830.6 611.4 C834.8 613.1 840.2 615.1 845.6 620.2 C851.0 625.3 858.9 636.5 863.3 642.2 C867.7 647.9 869.2 650.5 872.2 654.4 C875.2 658.3 877.9 660.4 881.0 665.4 C884.1 670.4 888.2 679.4 891.0 684.2 C893.8 689.0 895.4 690.5 897.6 694.2 C899.8 697.9 901.2 701.3 904.2 706.3 C907.2 711.3 912.0 719.2 915.3 724.0 C918.6 728.8 920.6 732.1 924.1 735.1 C927.6 738.1 933.0 739.7 936.3 741.7 C939.6 743.7 941.5 744.9 944.0 747.2 C946.5 749.5 949.2 752.5 951.2 755.5 C953.2 758.5 954.8 761.9 956.2 764.9 C957.6 767.9 958.3 770.1 959.5 773.8 C960.7 777.5 962.8 784.8 963.4 787.0" fill="none" stroke="#2e3580" stroke-width="2" stroke-dasharray="23.3 8.8 5.6 8.8" stroke-linejoin="round"/>
<path d="M118.0 780.1 C119.3 790.1 123.4 818.3 126.1 840.4 C128.8 862.5 132.8 900.7 134.1 912.8 C135.4 924.9 132.6 911.1 134.1 912.8 C135.6 914.5 141.7 921.1 143.2 922.8 C144.7 924.5 141.7 927.1 143.2 922.8 C144.7 918.4 149.4 905.1 152.2 896.7 C155.0 888.3 158.9 876.6 160.2 872.6 C161.5 868.6 158.7 873.5 160.2 872.6 C161.7 871.8 167.8 868.4 169.3 867.5 C170.8 866.6 167.8 865.0 169.3 867.5 C170.8 870.0 175.5 877.1 178.3 882.6 C181.2 888.1 183.7 895.2 186.4 900.7 C189.1 906.2 191.7 912.1 194.4 915.8 C197.1 919.5 199.8 921.5 202.5 922.8 C205.2 924.1 207.5 924.5 210.5 923.8 C213.5 923.1 216.2 921.5 220.5 918.8 C224.8 916.1 231.2 911.7 236.6 907.7 C242.0 903.7 247.3 897.9 252.7 894.7 C258.1 891.5 262.8 890.0 268.8 888.6 C274.8 887.2 283.5 887.4 288.9 886.2 C294.2 885.0 297.2 882.9 300.9 881.6 C304.6 880.3 307.6 880.3 311.1 878.3 C314.6 876.3 316.6 874.6 322.1 869.5 C327.6 864.4 336.8 854.8 344.2 847.4 C351.6 840.0 358.9 831.9 366.3 825.3 C373.7 818.7 381.0 811.9 388.4 807.6 C395.8 803.4 403.1 802.4 410.5 799.8 C417.9 797.2 425.3 794.9 432.7 792.1 C440.1 789.4 447.4 786.1 454.8 783.3 C462.2 780.5 469.5 777.9 476.9 775.5 C484.3 773.1 493.5 770.5 499.0 769.1 C504.5 767.7 504.5 768.8 510.0 766.9 C515.5 765.0 524.7 761.0 532.1 758.0 C539.5 755.0 545.0 752.7 554.2 749.2 C563.4 745.7 576.4 741.2 587.4 737.0 C598.4 732.8 611.3 727.3 620.5 723.8 C629.7 720.3 635.3 718.2 642.7 716.0 C650.1 713.8 657.4 712.5 664.8 710.5 C672.2 708.5 679.5 706.4 686.9 703.9 C694.3 701.4 703.5 697.7 709.0 695.7 C714.5 693.7 714.0 695.2 720.0 691.8 C726.0 688.4 736.7 682.4 745.1 675.5 C753.5 668.6 761.9 659.2 770.3 650.4 C778.7 641.6 787.9 629.1 795.4 622.7 C802.9 616.3 810.5 614.0 815.5 612.2 C820.5 610.5 821.7 610.7 825.5 612.2 C829.3 613.8 834.8 618.9 838.1 621.5 C841.5 624.1 843.3 626.5 845.6 627.7 C847.9 629.0 849.1 627.0 851.9 629.0 C854.7 631.0 859.2 635.8 862.2 640.0 C865.2 644.2 866.7 649.6 870.0 654.4 C873.3 659.2 877.7 663.7 882.1 668.7 C886.5 673.7 891.9 679.4 896.5 684.2 C901.1 689.0 905.8 693.1 909.8 697.5 C913.8 701.9 917.3 705.8 920.8 710.8 C924.3 715.8 927.7 721.6 930.8 727.3 C933.9 733.0 937.0 739.3 939.6 745.0 C942.2 750.7 944.0 756.2 946.2 761.6 C948.4 767.0 950.9 771.6 952.9 777.1 C954.9 782.6 956.6 789.1 958.4 794.8 C960.1 800.5 962.6 808.6 963.4 811.4" fill="none" stroke="#2e3580" stroke-width="2"  stroke-linejoin="round"/>
<text x="126.2" y="652.3" font-size="18.3" text-anchor="start" >UF</text>
<text x="151.1" y="662.4" font-size="23" text-anchor="start" >HIP</text>
<text x="190.2" y="652.3" font-size="18.3" text-anchor="start" >SAG</text>
<text x="247.3" y="595.1" font-size="18.3" text-anchor="start" >AF</text>
<text x="272.4" y="605.2" font-size="23" text-anchor="start" >KNEE</text>
<text x="337.7" y="595.1" font-size="18.3" text-anchor="start" >SAG</text>
<text x="768.8" y="595.4" font-size="18.3" text-anchor="start" >AF</text>
<text x="793.8" y="605.2" font-size="23" text-anchor="start" >HIP</text>
<text x="833.5" y="595.4" font-size="18.3" text-anchor="start" >SAG</text>
<text x="667.7" y="914.7" font-size="18.3" text-anchor="start" >AF</text>
<text x="693.0" y="925.3" font-size="23" text-anchor="start" >HIP</text>
<text x="732.9" y="914.7" font-size="18.3" text-anchor="start" >FRO</text>
<text x="715.6" y="1116.7" font-size="18.3" text-anchor="start" >AF</text>
<text x="740.5" y="1127.1" font-size="23" text-anchor="start" >ANKLE</text>
<text x="822.4" y="1116.7" font-size="18.3" text-anchor="start" >SAG</text>
<line x1="118.0" y1="776.4" x2="691.7" y2="776.4" stroke="#000" stroke-width="2"/>
<line x1="762.7" y1="776.4" x2="964.0" y2="776.4" stroke="#000" stroke-width="2"/>
<text x="675.9" y="773.0" font-size="18.3" text-anchor="start" >AF</text>
<text x="700.7" y="783.2" font-size="23" text-anchor="start" >HIP</text>
<text x="739.9" y="773.0" font-size="18.3" text-anchor="start" >TRA</text>
<text x="104.3" y="598.0" font-size="33" text-anchor="end" >1.0</text>
<text x="104.3" y="693.4" font-size="33" text-anchor="end" >0.5</text>
<text x="104.3" y="788.9" font-size="33" text-anchor="end" >0</text>
<text x="104.3" y="882.7" font-size="33" text-anchor="end" >-0.5</text>
<text x="104.3" y="977.7" font-size="33" text-anchor="end" >-1.0</text>
<text x="104.3" y="1073.5" font-size="33" text-anchor="end" >-1.5</text>
<text x="104.3" y="1169.0" font-size="33" text-anchor="end" >-2.0</text>
<text x="215.0" y="1241.0" font-size="32" text-anchor="start" textLength="686.0" lengthAdjust="spacingAndGlyphs" >Relative Group Difference: TTA - Uninjured</text>
<text transform="translate(24.3 1628.3) rotate(-90)" x="0" y="0" font-size="31.2" textLength="256.4" lengthAdjust="spacingAndGlyphs">Moment (N-m/kg)</text>
<rect x="202.5" y="1492.9" width="206.3" height="216.0" fill="url(#pPink)" stroke="#000" stroke-width="2.2"/>
<rect x="236.3" y="1492.9" width="97.3" height="43.2" fill="url(#pOrange)" stroke="#000" stroke-width="2.2"/>
<rect x="355.8" y="1492.9" width="65.1" height="102.7" fill="#343a7a" stroke="#000" stroke-width="2.2"/>
<rect x="898.2" y="1492.9" width="52.5" height="133.3" fill="url(#pRed)" stroke="#000" stroke-width="2.2"/>
<rect x="131.1" y="1292.0" width="22.2" height="200.9" fill="#343a7a" stroke="#000" stroke-width="2.2"/>
<rect x="132.2" y="1399.2" width="18.3" height="93.7" fill="url(#pPink2)" stroke="#000" stroke-width="1.9"/>
<rect x="252.1" y="1370.2" width="37.7" height="122.7" fill="#68bb45" stroke="#000" stroke-width="2.2"/>
<line x1="253.2" y1="1372.9" x2="288.7" y2="1372.9" stroke="#2e3b28" stroke-width="1.5"/>
<line x1="253.2" y1="1388.8" x2="288.7" y2="1388.8" stroke="#2e3b28" stroke-width="1.5"/>
<line x1="253.2" y1="1401.6" x2="288.7" y2="1401.6" stroke="#2e3b28" stroke-width="1.5"/>
<line x1="253.2" y1="1417.6" x2="288.7" y2="1417.6" stroke="#2e3b28" stroke-width="1.5"/>
<line x1="253.2" y1="1430.2" x2="288.7" y2="1430.2" stroke="#2e3b28" stroke-width="1.5"/>
<line x1="253.2" y1="1446.2" x2="288.7" y2="1446.2" stroke="#2e3b28" stroke-width="1.5"/>
<line x1="253.2" y1="1458.8" x2="288.7" y2="1458.8" stroke="#2e3b28" stroke-width="1.5"/>
<line x1="253.2" y1="1474.8" x2="288.7" y2="1474.8" stroke="#2e3b28" stroke-width="1.5"/>
<line x1="253.2" y1="1487.4" x2="288.7" y2="1487.4" stroke="#2e3b28" stroke-width="1.5"/>
<rect x="307.9" y="1424.1" width="10.9" height="68.8" fill="#1f77aa" stroke="#000" stroke-width="2.2"/>
<line x1="309.0" y1="1430.2" x2="317.7" y2="1430.2" stroke="#1d2a33" stroke-width="1.5"/>
<line x1="309.0" y1="1446.2" x2="317.7" y2="1446.2" stroke="#1d2a33" stroke-width="1.5"/>
<line x1="309.0" y1="1458.8" x2="317.7" y2="1458.8" stroke="#1d2a33" stroke-width="1.5"/>
<line x1="309.0" y1="1474.8" x2="317.7" y2="1474.8" stroke="#1d2a33" stroke-width="1.5"/>
<line x1="309.0" y1="1487.4" x2="317.7" y2="1487.4" stroke="#1d2a33" stroke-width="1.5"/>
<line x1="116.4" y1="1246.2" x2="116.4" y2="1739.3" stroke="#000" stroke-width="2.2"/>
<line x1="115.3" y1="1738.3" x2="970.3" y2="1738.3" stroke="#000" stroke-width="2.2"/>
<line x1="116.4" y1="1247.5" x2="125.3" y2="1247.5" stroke="#000" stroke-width="2"/>
<line x1="116.4" y1="1296.6" x2="125.3" y2="1296.6" stroke="#000" stroke-width="2"/>
<line x1="116.4" y1="1345.7" x2="125.3" y2="1345.7" stroke="#000" stroke-width="2"/>
<line x1="116.4" y1="1394.7" x2="125.3" y2="1394.7" stroke="#000" stroke-width="2"/>
<line x1="116.4" y1="1443.8" x2="125.3" y2="1443.8" stroke="#000" stroke-width="2"/>
<line x1="116.4" y1="1542.0" x2="125.3" y2="1542.0" stroke="#000" stroke-width="2"/>
<line x1="116.4" y1="1591.1" x2="125.3" y2="1591.1" stroke="#000" stroke-width="2"/>
<line x1="116.4" y1="1640.1" x2="125.3" y2="1640.1" stroke="#000" stroke-width="2"/>
<line x1="116.4" y1="1689.2" x2="125.3" y2="1689.2" stroke="#000" stroke-width="2"/>
<line x1="287.0" y1="1738.3" x2="287.0" y2="1729.2" stroke="#000" stroke-width="2"/>
<line x1="457.6" y1="1738.3" x2="457.6" y2="1729.2" stroke="#000" stroke-width="2"/>
<line x1="628.3" y1="1738.3" x2="628.3" y2="1729.2" stroke="#000" stroke-width="2"/>
<line x1="798.9" y1="1738.3" x2="798.9" y2="1729.2" stroke="#000" stroke-width="2"/>
<line x1="969.5" y1="1738.3" x2="969.5" y2="1729.2" stroke="#000" stroke-width="2"/>
<line x1="116.4" y1="1492.9" x2="969.5" y2="1492.9" stroke="#000" stroke-width="2.1"/>
<text x="104.6" y="1257.9" font-size="33" text-anchor="end" >0.5</text>
<text x="104.6" y="1307.0" font-size="33" text-anchor="end" >0.4</text>
<text x="104.6" y="1356.1" font-size="33" text-anchor="end" >0.3</text>
<text x="104.6" y="1405.1" font-size="33" text-anchor="end" >0.2</text>
<text x="104.6" y="1454.2" font-size="33" text-anchor="end" >0.1</text>
<text x="104.6" y="1499.9" font-size="33" text-anchor="end" >0</text>
<text x="104.6" y="1552.4" font-size="33" text-anchor="end" >-0.1</text>
<text x="104.6" y="1601.5" font-size="33" text-anchor="end" >-0.2</text>
<text x="104.6" y="1650.5" font-size="33" text-anchor="end" >-0.3</text>
<text x="104.6" y="1699.6" font-size="33" text-anchor="end" >-0.4</text>
<text x="104.6" y="1748.7" font-size="33" text-anchor="end" >-0.5</text>
<text x="116.4" y="1784.0" font-size="33" text-anchor="middle" >0</text>
<text x="287.0" y="1784.0" font-size="33" text-anchor="middle" >20</text>
<text x="457.6" y="1784.0" font-size="33" text-anchor="middle" >40</text>
<text x="628.3" y="1784.0" font-size="33" text-anchor="middle" >60</text>
<text x="798.9" y="1784.0" font-size="33" text-anchor="middle" >80</text>
<text x="969.5" y="1784.0" font-size="33" text-anchor="middle" >100</text>
<text x="474.4" y="1834.3" font-size="33.5" text-anchor="start" textLength="147.5" lengthAdjust="spacingAndGlyphs" >% Stance</text>
<rect x="53.2" y="1889.5" width="82.2" height="33.2" fill="url(#pRedL)" stroke="#000" stroke-width="2.4"/>
<rect x="53.2" y="1942.0" width="82.1" height="33.0" fill="url(#pPinkL)" stroke="#000" stroke-width="2.4"/>
<rect x="53.4" y="1995.1" width="81.9" height="32.4" fill="#1f77aa" stroke="#000" stroke-width="2.4"/>
<line x1="54.5" y1="1998.8" x2="134.2" y2="1998.8" stroke="#1d2a33" stroke-width="2"/>
<line x1="54.5" y1="2014.4" x2="134.2" y2="2014.4" stroke="#1d2a33" stroke-width="2"/>
<rect x="577.0" y="1889.5" width="81.7" height="33.2" fill="#68bb45" stroke="#000" stroke-width="2.4"/>
<line x1="578.0" y1="1900.9" x2="657.7" y2="1900.9" stroke="#2e3b28" stroke-width="2"/>
<line x1="578.0" y1="1913.7" x2="657.7" y2="1913.7" stroke="#2e3b28" stroke-width="2"/>
<rect x="577.0" y="1942.0" width="81.7" height="33.0" fill="#343a7a" stroke="#000" stroke-width="2.4"/>
<rect x="577.0" y="1994.9" width="81.7" height="32.6" fill="url(#pOrangeL)" stroke="#000" stroke-width="2.4"/>
<line x1="149.5" y1="1906.2" x2="232.0" y2="1906.2" stroke="#dc2a2a" stroke-width="4"/>
<line x1="153.0" y1="1958.7" x2="235.0" y2="1958.7" stroke="#dd4597" stroke-width="4"/>
<line x1="153.0" y1="2011.4" x2="235.0" y2="2011.4" stroke="#1f77aa" stroke-width="4"/>
<line x1="676.0" y1="1906.2" x2="758.6" y2="1906.2" stroke="#68bb45" stroke-width="4"/>
<line x1="676.0" y1="1958.7" x2="758.6" y2="1958.7" stroke="#151a40" stroke-width="4"/>
<line x1="676.0" y1="2011.4" x2="758.6" y2="2011.4" stroke="#ee8226" stroke-width="4"/>
<text x="246.0" y="1914.4" font-size="31.7" text-anchor="start" textLength="213.4" lengthAdjust="spacingAndGlyphs" >Ankle SAG AF</text>
<text x="250.2" y="1967.6" font-size="31.7" text-anchor="start" textLength="203.6" lengthAdjust="spacingAndGlyphs" >Knee SAG AF</text>
<text x="250.2" y="2020.2" font-size="31.7" text-anchor="start" textLength="177.3" lengthAdjust="spacingAndGlyphs" >Hip SAG UF</text>
<text x="773.3" y="1915.1" font-size="31.7" text-anchor="start" textLength="176.3" lengthAdjust="spacingAndGlyphs" >Hip FRO AF</text>
<text x="773.3" y="1967.7" font-size="31.7" text-anchor="start" textLength="177.4" lengthAdjust="spacingAndGlyphs" >Hip SAG AF</text>
<text x="773.3" y="2020.0" font-size="31.7" text-anchor="start" textLength="174.3" lengthAdjust="spacingAndGlyphs" >Hip TRA AF</text>
</svg></body></html>
